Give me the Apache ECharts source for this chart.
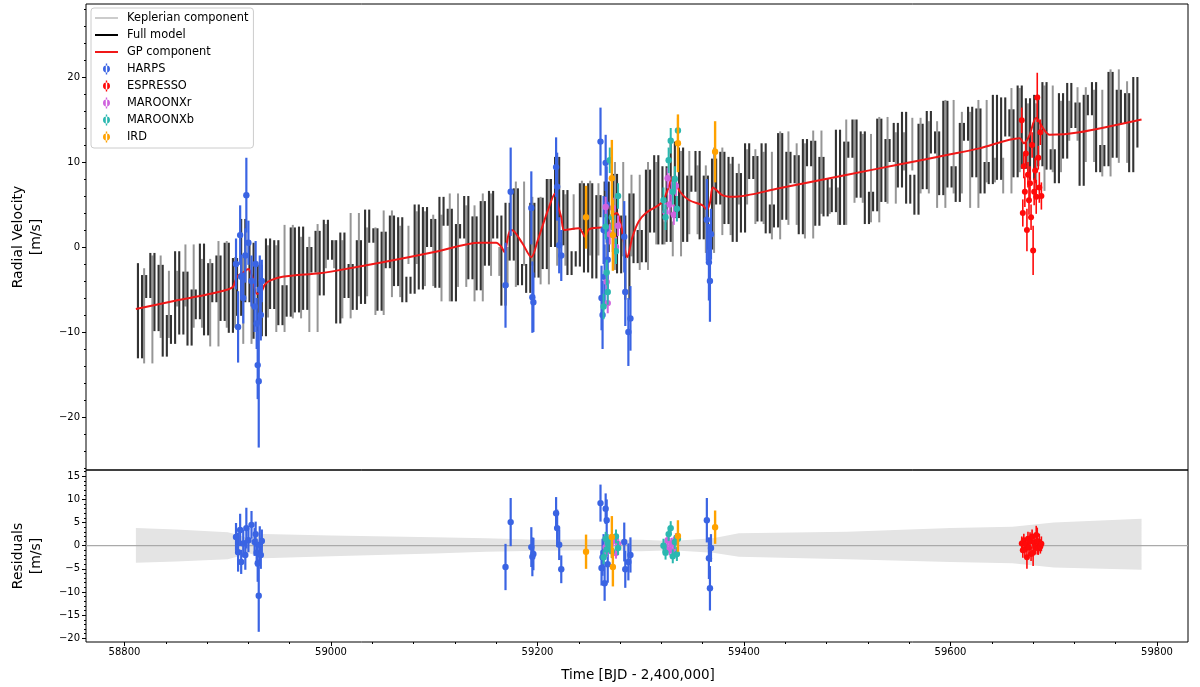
<!DOCTYPE html>
<html><head><meta charset="utf-8">
<script src="https://cdn.jsdelivr.net/npm/echarts@6/dist/echarts.min.js"></script>
<style>html,body{margin:0;padding:0;background:#fff}#c{width:1200px;height:687px}</style>
</head><body><div id="c"></div>
<script>
// ---------------- axes ----------------
const X_MIN = 58762.7, X_MAX = 59830;
const RV_MIN = -26.24, RV_MAX = 28.59;
const RES_MIN = -20.8, RES_MAX = 16.35;
const xTickLabels = [58800, 59000, 59200, 59400, 59600, 59800];
const rvTickLabels = [-20, -10, 0, 10, 20];
const resTickLabels = [-20, -15, -10, -5, 0, 5, 10, 15];

// ---------------- model curves ----------------
// full model sampled every 4 days from day 58811
const MODEL_T0 = 58811, MODEL_STEP = 4;
const fullModel = [
 -1.9,-13.1,-3.3,-6.0,-0.7,-9.9,-2.1,-12.9,-8.0,-11.4,-0.5,-10.3,-2.9,-11.6,-5.0,-8.5,0.4,-10.4,-1.9,-6.5,-1.0,-8.7,0.5,
 -10.1,-1.3,-8.1,3.3,-6.5,0.5,-10.8,-2.1,-10.5,1.0,
 -7.3,0.8,-9.2,-4.5,-8.2,2.3,-7.7,
 2.4,-7.4,0.0,-3.0,1.9,-5.7,3.2,-1.5,0.8,-9.0,1.7,-6.0,-2.0,-7.4,0.8,-6.7,4.4,0.5,2.2,-7.5,1.8,-2.5,3.7,-4.6,3.5,-6.5,-3.5,-5.5,5.0,-5.0,
 4.7,0.0,3.3,-4.8,5.9,2.5,4.5,-6.4,2.7,1.0,6.0,-3.8,3.6,-5.1,
 5.4,-2.2,6.6,1.0,3.7,-6.9,5.2,-1.6,6.9,-4.5,-2.0,-5.4,5.2,-3.6,5.8,-2.6,8.0,0.0,10.6,0.2,6.7,-3.3,-0.5,-2.3,7.5,-3.0,7.5,-3.7,6.1,3.5,
 7.7,-0.6,8.6,-3.1,3.7,-6.2,6.3,-1.9,2.0,-1.8,9.1,1.7,10.8,0.3,9.5,0.6,12.4,3.4,11.7,0.6,8.4,6.5,11.3,0.9,8.4,-0.3,10.4,5.0,11.2,2.7,10.6,
 0.6,8.7,1.7,12.2,8.0,10.7,3.0,12.2,1.6,5.0,2.3,13.4,3.2,11.2,7.5,10.8,1.5,12.7,9.5,12.5,2.5,10.6,3.6,8.0,4.1,13.8,2.6,12.4,10.5,15.0,
 5.8,13.6,2.7,6.5,4.2,15.1,5.3,12.7,10.0,14.6,7.0,15.9,5.1,8.5,3.8,14.5,6.8,16.0,11.0,13.6,6.1,17.2,7.0,9.5,5.3,14.6,12.5,16.5,8.2,16.3,
 6.3,10.0,7.4,17.9,7.9,17.6,13.0,16.2,8.2,
 19.0,9.2,17.5,7.9,17.9,9.5,19.4,9.1,11.5,7.5,18.1,10.4,19.3,14.0,17.0,7.2,17.9,15.5,19.4,8.8,12.0,9.5,20.6,10.5,18.5,14.5,18.1,8.8,20.0,11.7
];
// Keplerian component sampled every 8 days from day 58815
const KEP_T0 = 58815, KEP_STEP = 8;
const keplerian = [
 -2.5,-13.7,-1.0,-10.7,-2.8,-7.0,0.3,-9.5,-1.4,-11.7,
 0.7,-9.5,-1.2,-11.4,-4.0,-8.3,0.2,-10.0,2.6,-8.4,
 1.2,-10.0,2.7,-2.5,0.8,-8.4,4.0,-5.8,2.3,-8.0,
 4.3,-5.9,2.5,-2.0,4.2,-4.6,3.8,-6.4,6.3,-4.7,
 4.9,-6.4,6.3,-3.4,0.0,-4.7,7.7,-2.2,5.9,-4.4,
 8.0,-2.2,6.2,2.0,7.8,-1.0,7.5,-2.7,10.0,-1.1,
 8.5,-2.7,10.0,0.3,3.0,-1.1,11.3,1.5,9.6,-0.7,
 11.7,1.4,9.8,5.0,11.5,2.7,11.2,0.9,13.6,2.6,
 12.2,1.0,13.7,3.9,7.0,2.6,15.0,5.2,13.3,2.9,
 15.3,5.1,13.5,9.0,15.2,6.3,14.8,4.6,17.3,6.3,
 15.9,4.6,17.3,7.6,10.5,6.3,18.7,8.8,16.9,6.6,
 19.0,8.8,17.2,12.5,18.8,10.0,18.5,8.3,20.9,9.9,19.5
];
const gpDays = [58811,58850,58880,58900,58905,58909,58915,58920,58924,58928,58932,58936,58942,58953,58989,59000,59050,59100,59144,59160,59165,59168,59172,59175,59185,59194,59200,59210,59217,59220,59223,59226,59240,59244,59246,59250,59262,59266,59270,59274,59277,59281,59287,59292,59298,59305,59320,59326,59331,59338,59347,59360,59364,59367,59370,59379,59389,59434,59500,59550,59600,59628,59667,59671,59676,59683,59690,59696,59725,59785];
const gpVals = [-7.3,-6.3,-5.6,-5.0,-4.7,-3.5,-3.0,-2.6,-3.6,-5.5,-5.4,-4.4,-3.9,-3.5,-3.1,-2.9,-1.8,-0.6,0.5,0.5,0.0,-0.6,1.5,2.0,0.5,-1.2,0.7,4.3,6.3,4.8,3.5,2.0,2.2,1.6,1.2,2.1,2.3,1.6,2.2,3.8,4.0,2.5,-1.2,1.2,3.0,4.0,5.2,6.7,8.2,6.5,5.5,4.9,4.4,5.2,7.0,6.1,5.9,6.9,8.5,9.7,10.9,11.6,12.8,12.2,13.0,15.2,13.9,13.2,13.5,15.0];

// ---------------- residual band ----------------
const bandDays  = [58811,58850,58900,58912,58920,58935,59000,59100,59150,59200,59260,59300,59330,59370,59395,59500,59600,59660,59700,59785];
const bandUpper = [3.8,3.5,2.9,2.2,1.6,2.5,2.2,1.8,1.6,1.3,1.4,1.3,1.0,1.6,2.7,3.0,3.8,4.1,5.0,5.8];
const bandLower = [-3.7,-3.4,-2.9,-2.2,-1.6,-2.7,-2.3,-1.7,-1.3,-1.1,-1.0,-1.2,-1.0,-1.5,-2.4,-2.9,-3.5,-3.8,-4.7,-5.2];

// ---------------- instruments ----------------
const harpsDays = [58908,58910,58912,58913,58915,58917,58918,58920,58923,58926,58927,58928,58929,58930,58931,58932,58933,
  59169,59174,59194,59195,59196,59218,59219,59221,59223,
  59261,59262,59263,59264,59265,59266,59267,59268,
  59284,59285,59288,59290,59364,59366,59367,59368];
const harpsRV  = [-2.0,-9.4,1.4,-3.5,-6.0,-1.0,6.1,0.5,-4.0,-7.0,-2.0,-9.0,-13.9,-15.8,-5.0,-8.0,-4.0,
  -4.5,6.5,4.6,-5.9,-6.5,9.4,7.1,0.2,-1.0,
  12.4,-6.0,-8.0,2.0,-3.5,9.9,5.0,-1.5,
  1.2,-5.3,-10.0,-8.4,3.2,-1.8,-4.0,1.5];
const harpsErr = [3.0,4.2,3.5,2.6,3.0,3.2,4.4,2.6,3.0,3.0,2.7,3.0,4.0,7.8,4.0,3.0,2.5,
  5.0,5.2,4.3,4.2,3.5,3.5,4.0,3.3,3.0,
  4.0,3.8,4.0,4.0,3.8,3.3,4.5,4.0,
  4.2,4.0,4.0,3.8,4.8,4.5,4.8,3.0];
const harpsRes = [1.9,-1.4,3.4,-3.5,0.5,-2.0,3.8,1.2,4.5,0.8,2.5,-1.5,-3.8,-10.8,0.2,-2.0,1.0,
  -4.6,5.1,-0.3,-2.4,-1.8,7.0,3.8,0.2,-5.1,
  9.2,-4.8,-2.5,-1.5,-8.1,8.0,5.5,-4.0,
  0.8,-5.1,-3.5,-2.0,5.5,-2.7,-9.2,-0.5];

const espDays = [59669,59670,59671,59672,59673,59674,59675,59676,59677,59678,59679,59680,59681,59682,59683,59684,59685,59686,59687,59688];
const espRV   = [14.9,4.0,9.5,6.5,11.0,2.0,8.5,5.5,7.5,3.5,12.0,-0.4,6.5,9.0,5.9,17.6,10.5,7.0,13.5,6.0];
const espErr  = [1.5,1.6,1.4,1.8,1.3,2.5,1.5,1.7,2.0,1.5,1.5,2.9,1.6,1.5,2.0,2.9,1.4,1.8,1.5,1.6];
const espRes  = [0.5,-1.0,1.2,-0.8,0.3,-2.5,1.5,-0.4,0.9,-1.8,2.0,-1.5,0.6,-0.3,2.3,1.0,-0.6,0.8,-0.2,0.4];

const mxrDays = [59266,59267,59268,59270,59273,59276,59278,59324,59326,59328,59330,59332,59334];
const mxrRV   = [4.7,-4.1,-6.6,1.5,4.6,0.0,2.5,4.1,8.1,5.0,6.5,3.8,7.2];
const mxrErr  = [1.2,1.2,1.2,1.2,1.2,1.2,1.2,1.2,1.2,1.2,1.2,1.2,1.2];
const mxrRes  = [-0.3,-1.3,0.8,-0.5,1.0,-1.6,0.4,-0.3,1.2,-0.9,0.5,-1.2,1.5];

const mxbDays = [59264,59266,59267,59268,59270,59272,59276,59278,59322,59324,59327,59329,59331,59333,59335,59336];
const mxbRV   = [-7.0,2.4,-3.0,-5.3,10.2,3.5,-0.5,6.0,5.5,3.5,10.2,12.5,6.5,8.0,4.5,13.7];
const mxbErr  = [1.5,1.5,1.5,1.5,1.5,1.5,1.5,1.5,1.5,1.5,1.5,1.5,1.5,1.5,1.5,1.5];
const mxbRes  = [-2.5,1.5,-0.8,1.0,0.5,-1.2,2.0,-0.5,0.0,-1.5,2.5,3.8,-2.3,0.8,-1.8,1.5];

const irdDays = [59247,59272,59273,59336,59372];
const irdRV   = [3.5,8.1,1.4,12.2,11.2];
const irdErr  = [3.7,4.5,4.2,3.4,3.6];
const irdRes  = [-1.3,1.9,-4.6,2.1,4.0];

// ---------------- build ----------------
const FONT = 'DejaVu Sans';
const fmt = v => String(v).replace('-', '\u2212');
const xMinor = []; for (let t = 58840; t <= 59800; t += 40) xMinor.push(t);
const rvMinor = []; for (let t = -26; t <= 28; t += 2) rvMinor.push(t);
const resMinor = []; for (let t = -20; t <= 16; t += 1) resMinor.push(t);

// each stroke of the densely sampled model joins two successive samples
const fullBars = fullModel.slice(0, -1).map((v, i) => [MODEL_T0 + MODEL_STEP * i + MODEL_STEP / 2, v, fullModel[i + 1]]);
const kepBars = keplerian.slice(0, -1).map((v, i) => [KEP_T0 + KEP_STEP * i + KEP_STEP / 2, v, keplerian[i + 1]]);
const gpData = gpDays.map((d, i) => [d, gpVals[i]]);

function barRender(color, lw) {
  return function (params, api) {
    const x = api.value(0);
    const a = api.coord([x, api.value(1)]), b = api.coord([x, api.value(2)]);
    return { type: 'line', shape: { x1: a[0], y1: a[1], x2: b[0], y2: b[1] }, style: { stroke: color, lineWidth: lw } };
  };
}
function ebRender(color, lw, r) {
  return function (params, api) {
    const x = api.value(0), y = api.value(1), e = api.value(2);
    const p = api.coord([x, y]), a = api.coord([x, y - e]), b = api.coord([x, y + e]);
    return { type: 'group', children: [
      { type: 'line', shape: { x1: p[0], y1: a[1], x2: p[0], y2: b[1] }, style: { stroke: color, lineWidth: lw } },
      { type: 'circle', shape: { cx: p[0], cy: p[1], r: r }, style: { fill: color } }
    ]};
  };
}
function ebSeries(name, color, days, vals, errs, panel, lw, r) {
  return {
    type: 'custom', name: name, xAxisIndex: panel === 0 ? 0 : 1, yAxisIndex: panel === 0 ? 0 : 2,
    color: color, itemStyle: { color: color }, clip: true, z: 5,
    renderItem: ebRender(color, lw, r),
    encode: { x: 0, y: 1 },
    data: days.map((d, i) => [d, vals[i], errs[i]])
  };
}
const C = { harps: '#3a64e3', esp: '#ff0a0a', mxr: '#d063de', mxb: '#2bb8b0', ird: '#ffa200' };
const BOX = 'M0,0h0.01v0.01h-0.01Z M23,12h0.01v0.01h-0.01Z ';
const EB_ICON = 'path://' + BOX + 'M10.8,0.5h1.4v11h-1.4Z M8,6a3.5,3.5 0 1,0 7,0a3.5,3.5 0 1,0 -7,0Z';
const THIN_ICON = 'path://' + BOX + 'M0,5.5h23v1h-23Z';
const THICK_ICON = 'path://' + BOX + 'M0,5h23v2h-23Z';

const axisCommon = { axisLine: { show: false, onZero: false }, splitLine: { show: false } };
const chart = echarts.init(document.getElementById('c'));
const option = {
  animation: false,
  backgroundColor: '#fff',
  textStyle: { fontFamily: FONT },
  grid: [
    { left: 86, right: 12, top: 4, height: 466, show: true, borderColor: '#000', borderWidth: 1, backgroundColor: 'transparent' },
    { left: 86, right: 12, top: 470, height: 172, show: true, borderColor: '#000', borderWidth: 1, backgroundColor: 'transparent' }
  ],
  xAxis: [
    Object.assign({ type: 'value', gridIndex: 0, position: 'bottom', min: X_MIN, max: X_MAX, axisTick: { show: false }, axisLabel: { show: false } }, axisCommon),
    Object.assign({ type: 'value', gridIndex: 1, position: 'bottom', min: X_MIN, max: X_MAX,
      axisTick: { show: true, length: 4, lineStyle: { color: '#000' }, customValues: xTickLabels },
      axisLabel: { show: true, customValues: xTickLabels, formatter: v => String(v), fontSize: 10, color: '#000', margin: 5, fontFamily: FONT } }, axisCommon),
    Object.assign({ type: 'value', gridIndex: 1, position: 'bottom', min: X_MIN, max: X_MAX,
      axisTick: { show: true, length: 2, lineStyle: { color: '#000' }, customValues: xMinor }, axisLabel: { show: false } }, axisCommon)
  ],
  yAxis: [
    Object.assign({ type: 'value', gridIndex: 0, position: 'left', min: RV_MIN, max: RV_MAX,
      axisTick: { show: true, length: 4, lineStyle: { color: '#000' }, customValues: rvTickLabels },
      axisLabel: { show: true, customValues: rvTickLabels, formatter: fmt, fontSize: 10, color: '#000', margin: 6, fontFamily: FONT } }, axisCommon),
    Object.assign({ type: 'value', gridIndex: 0, position: 'left', min: RV_MIN, max: RV_MAX,
      axisTick: { show: true, length: 2, lineStyle: { color: '#000' }, customValues: rvMinor }, axisLabel: { show: false } }, axisCommon),
    Object.assign({ type: 'value', gridIndex: 1, position: 'left', min: RES_MIN, max: RES_MAX,
      axisTick: { show: true, length: 4, lineStyle: { color: '#000' }, customValues: resTickLabels },
      axisLabel: { show: true, customValues: resTickLabels, formatter: fmt, fontSize: 10, color: '#000', margin: 6, fontFamily: FONT } }, axisCommon),
    Object.assign({ type: 'value', gridIndex: 1, position: 'left', min: RES_MIN, max: RES_MAX,
      axisTick: { show: true, length: 2, lineStyle: { color: '#000' }, customValues: resMinor }, axisLabel: { show: false } }, axisCommon)
  ],
  legend: {
    orient: 'vertical', left: 91, top: 8, padding: [4, 5, 5, 4], itemGap: 5, itemWidth: 23, itemHeight: 12,
    backgroundColor: 'rgba(255,255,255,0.85)', borderColor: '#cccccc', borderWidth: 1, borderRadius: 3,
    textStyle: { fontFamily: FONT, fontSize: 11.4, color: '#000', padding: [0, 0, 0, 4] },
    selectedMode: false,
    data: [
      { name: 'Keplerian component', icon: THIN_ICON, itemStyle: { color: '#9a9a9a' } },
      { name: 'Full model', icon: THICK_ICON, itemStyle: { color: '#000' } },
      { name: 'GP component', icon: THICK_ICON, itemStyle: { color: '#f01818' } },
      { name: 'HARPS', icon: EB_ICON }, { name: 'ESPRESSO', icon: EB_ICON }, { name: 'MAROONXr', icon: EB_ICON },
      { name: 'MAROONXb', icon: EB_ICON }, { name: 'IRD', icon: EB_ICON }
    ]
  },
  graphic: [
    { type: 'text', x: 27, y: 237, rotation: Math.PI / 2, style: { text: 'Radial Velocity\n[m/s]', fontFamily: FONT, fontSize: 14, lineHeight: 18, fill: '#000', align: 'center', verticalAlign: 'middle' } },
    { type: 'text', x: 27, y: 556, rotation: Math.PI / 2, style: { text: 'Residuals\n[m/s]', fontFamily: FONT, fontSize: 14, lineHeight: 18, fill: '#000', align: 'center', verticalAlign: 'middle' } },
    { type: 'text', x: 638, y: 675, style: { text: 'Time [BJD - 2,400,000]', fontFamily: FONT, fontSize: 13.5, fill: '#000', align: 'center', verticalAlign: 'middle' } }
  ],
  series: [
    { type: 'custom', name: 'Keplerian component', xAxisIndex: 0, yAxisIndex: 0, clip: true, z: 2, silent: true,
      itemStyle: { color: '#9a9a9a' }, renderItem: barRender('rgba(105,105,105,0.7)', 2.0), encode: { x: 0, y: [1, 2] }, data: kepBars },
    { type: 'custom', name: 'Full model', xAxisIndex: 0, yAxisIndex: 0, clip: true, z: 3, silent: true,
      itemStyle: { color: '#000' }, renderItem: barRender('rgba(15,15,15,0.85)', 2.1), encode: { x: 0, y: [1, 2] }, data: fullBars },
    { type: 'line', name: 'GP component', xAxisIndex: 0, yAxisIndex: 0, data: gpData, symbol: 'none', showSymbol: false, smooth: 0.3,
      lineStyle: { color: '#f01818', width: 2 }, itemStyle: { color: '#f01818' }, z: 4 },
    ebSeries('HARPS', C.harps, harpsDays, harpsRV, harpsErr, 0, 2.2, 3.2),
    ebSeries('ESPRESSO', C.esp, espDays, espRV, espErr, 0, 1.6, 3.0),
    ebSeries('MAROONXr', C.mxr, mxrDays, mxrRV, mxrErr, 0, 2.0, 3.2),
    ebSeries('MAROONXb', C.mxb, mxbDays, mxbRV, mxbErr, 0, 2.0, 3.2),
    ebSeries('IRD', C.ird, irdDays, irdRV, irdErr, 0, 2.4, 3.2),
    // residual panel
    { type: 'custom', name: 'band', xAxisIndex: 1, yAxisIndex: 2, clip: true, z: 1, silent: true,
      data: [[bandDays[0], 0]],
      renderItem: function (params, api) {
        const pts = [];
        for (let k = 0; k < bandDays.length; k++) pts.push(api.coord([bandDays[k], bandUpper[k]]));
        for (let k = bandDays.length - 1; k >= 0; k--) pts.push(api.coord([bandDays[k], bandLower[k]]));
        return { type: 'polygon', shape: { points: pts }, style: { fill: '#e4e4e4' } };
      } },
    { type: 'line', name: 'zero', xAxisIndex: 1, yAxisIndex: 2, data: [[X_MIN, 0], [X_MAX, 0]], symbol: 'none', silent: true,
      lineStyle: { color: '#aaaaaa', width: 1.2 }, z: 2 },
    ebSeries('HARPS', C.harps, harpsDays, harpsRes, harpsErr, 1, 2.2, 3.2),
    ebSeries('ESPRESSO', C.esp, espDays, espRes, espErr, 1, 1.6, 3.0),
    ebSeries('MAROONXr', C.mxr, mxrDays, mxrRes, mxrErr, 1, 2.0, 3.2),
    ebSeries('MAROONXb', C.mxb, mxbDays, mxbRes, mxbErr, 1, 2.0, 3.2),
    ebSeries('IRD', C.ird, irdDays, irdRes, irdErr, 1, 2.4, 3.2)
  ]
};
chart.setOption(option);
</script></body></html>
